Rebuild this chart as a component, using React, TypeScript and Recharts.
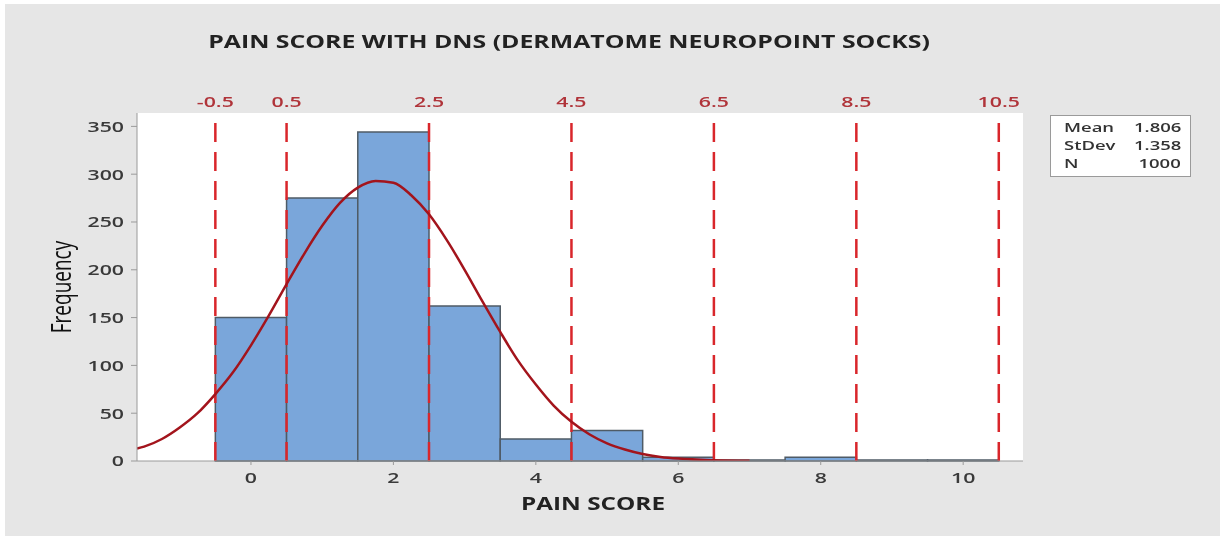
import React from 'react';
import {
    ComposedChart,
    Line,
    XAxis,
    YAxis,
    CartesianGrid,
    ReferenceArea,
    ReferenceLine,
} from 'recharts';

// histogram bins (centre of each bin) and counts
const binCenters = [0, 1, 2, 3, 4, 5, 6, 7, 8, 9, 10];
const binCounts = [150, 275, 344, 162, 23, 32, 4, 1, 4, 1, 1];

// dashed cut points shown along the top
const cutPoints = [-0.5, 0.5, 2.5, 4.5, 6.5, 8.5, 10.5];

const xTicks = [0, 2, 4, 6, 8, 10];
const yTicks = [0, 50, 100, 150, 200, 250, 300, 350];

// fitted normal curve
const fitX = [-1.6, -1.5, -1.25, -1, -0.75, -0.5, -0.25, 0, 0.25, 0.5, 0.75, 1, 1.25, 1.5, 1.75, 2, 2.25, 2.5, 2.75, 3, 3.25, 3.5, 3.75, 4, 4.25, 4.5, 4.75, 5, 5.25, 5.5, 5.75, 6, 6.5, 7];
const fitY = [13, 15, 23, 35, 50, 70, 93, 121, 152, 185, 217, 246, 270, 286, 293, 291, 278, 258, 231, 200, 167, 135, 105, 80, 58, 41, 28, 18.5, 12, 7.3, 4.3, 2.5, 0.8, 0.2];

const statLabels = ['Mean', 'StDev', 'N'];
const statValues = ['1.806', '1.358', '1000'];

const fitData = fitX.map((x, i) => ({ x, y: fitY[i] }));

// the original picture is stretched sideways, so text is widened to match
const STRETCH = 1.42;
const FONT = 'Open Sans';
const cutColor = '#d9262b';

const XTick = (props: any) => {
    const { x, y, payload } = props;
    return (
        <g transform={`translate(${x},${y}) scale(${STRETCH},1)`}>
            <text x={0} y={0} dy="0.71em" textAnchor="middle" fontFamily={FONT} fontSize={15} fontWeight={600} fill="#3a3a3a">
                {payload.value}
            </text>
        </g>
    );
};

const YTick = (props: any) => {
    const { x, y, payload } = props;
    return (
        <g transform={`translate(${x},${y}) scale(${STRETCH},1)`}>
            <text x={0} y={0} dy="0.355em" textAnchor="end" fontFamily={FONT} fontSize={15} fontWeight={600} fill="#3a3a3a">
                {payload.value}
            </text>
        </g>
    );
};

const CutLabel = (props: any) => {
    const { viewBox, text } = props;
    if (!viewBox) return null;
    return (
        <g transform={`translate(${viewBox.x},${viewBox.y - 6}) scale(${STRETCH},1)`}>
            <text x={0} y={0} textAnchor="middle" fontFamily={FONT} fontSize={15} fontWeight={600} fill="#b0343a">
                {text}
            </text>
        </g>
    );
};

const App = () => {
    return (
        <div style={{ position: 'fixed', left: 0, top: 0, width: 1224, height: 536, background: '#fff' }}>
            <div style={{ position: 'absolute', left: 5, top: 4, width: 1215, height: 532, background: '#e6e6e6' }} />
            <div
                style={{
                    position: 'absolute',
                    left: 0,
                    width: 1138,
                    top: 29,
                    textAlign: 'center',
                    fontFamily: FONT,
                    fontWeight: 700,
                    fontSize: 18,
                    color: '#222',
                    transform: `scaleX(${1.38})`,
                    transformOrigin: '569px 50%',
                }}
            >
                PAIN SCORE WITH DNS (DERMATOME NEUROPOINT SOCKS)
            </div>
            <div style={{ position: 'absolute', left: 0, top: 0 }}>
                <ComposedChart width={1224} height={536} margin={{ top: 113, right: 201, bottom: 35, left: 77 }}>
                    <CartesianGrid fill="#fff" horizontal={false} vertical={false} />
                    <XAxis
                        dataKey="x"
                        type="number"
                        domain={[-1.6, 10.84]}
                        ticks={xTicks}
                        allowDataOverflow
                        height={40}
                        stroke="#9a9a9a"
                        tickSize={4}
                        tickMargin={7}
                        tick={<XTick />}
                    />
                    <XAxis xAxisId="top" orientation="top" type="number" domain={[-1.6, 10.84]} height={0} tick={false} stroke="#9a9a9a" />
                    <YAxis
                        type="number"
                        domain={[0, 364]}
                        ticks={yTicks}
                        allowDataOverflow
                        width={60}
                        stroke="#9a9a9a"
                        tickSize={6}
                        tickMargin={7}
                        tick={<YTick />}
                    />
                    <YAxis yAxisId="right" orientation="right" width={0} tick={false} stroke="#9a9a9a" />
                    {binCenters.map((c, i) => (
                        <ReferenceArea
                            key={c}
                            x1={c - 0.5}
                            x2={c + 0.5}
                            y1={0}
                            y2={binCounts[i]}
                            fill="#7aa6da"
                            fillOpacity={1}
                            stroke="#4f5b66"
                            strokeWidth={1.5}
                        />
                    ))}
                    {cutPoints.map((p) => (
                        <ReferenceLine
                            key={p}
                            x={p}
                            stroke={cutColor}
                            strokeWidth={2.5}
                            strokeDasharray="19 10"
                            label={(lp: any) => <CutLabel {...lp} text={String(p)} />}
                        />
                    ))}
                    <Line
                        data={fitData}
                        dataKey="y"
                        type="monotone"
                        dot={false}
                        activeDot={false}
                        stroke="#a3141c"
                        strokeWidth={2.5}
                        isAnimationActive={false}
                    />
                </ComposedChart>
            </div>
            {/* axis titles */}
            <div
                style={{
                    position: 'absolute',
                    left: 593,
                    top: 503,
                    whiteSpace: 'nowrap',
                    fontFamily: FONT,
                    fontWeight: 700,
                    fontSize: 18,
                    color: '#222',
                    transform: `translate(-50%, -50%) scaleX(1.35)`,
                }}
            >
                PAIN SCORE
            </div>
            <div
                style={{
                    position: 'absolute',
                    left: 61,
                    top: 287,
                    whiteSpace: 'nowrap',
                    fontFamily: FONT,
                    fontWeight: 500,
                    fontSize: 19,
                    color: '#111',
                    lineHeight: '20px',
                    transform: `translate(-50%, -50%) scaleX(1.4) rotate(-90deg)`,
                }}
            >
                Frequency
            </div>
            {/* stats box */}
            <div
                style={{
                    position: 'absolute',
                    left: 1050,
                    top: 115,
                    width: 141,
                    height: 62,
                    boxSizing: 'border-box',
                    border: '1px solid #9a9a9a',
                    background: '#fff',
                }}
            />
            {statLabels.map((l, i) => (
                <React.Fragment key={l}>
                    <div
                        style={{
                            position: 'absolute',
                            left: 1064,
                            top: 118 + i * 18,
                            fontFamily: FONT,
                            fontSize: 13,
                            fontWeight: 600,
                            color: '#333',
                            lineHeight: '18px',
                            transform: `scaleX(${STRETCH})`,
                            transformOrigin: 'left center',
                        }}
                    >
                        {l}
                    </div>
                    <div
                        style={{
                            position: 'absolute',
                            right: 1224 - 1181,
                            top: 118 + i * 18,
                            fontFamily: FONT,
                            fontSize: 13,
                            fontWeight: 600,
                            color: '#333',
                            lineHeight: '18px',
                            transform: `scaleX(${STRETCH})`,
                            transformOrigin: 'right center',
                        }}
                    >
                        {statValues[i]}
                    </div>
                </React.Fragment>
            ))}
        </div>
    );
};

export default App;
